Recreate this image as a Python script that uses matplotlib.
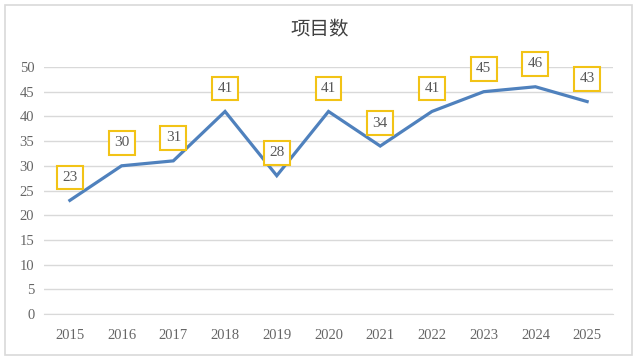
import matplotlib
matplotlib.use("Agg")
import matplotlib.pyplot as plt
from matplotlib.patches import Rectangle

years = ["2015", "2016", "2017", "2018", "2019", "2020", "2021", "2022", "2023", "2024", "2025"]
counts = [23, 30, 31, 41, 28, 41, 34, 41, 45, 46, 43]
yticks = [0, 5, 10, 15, 20, 25, 30, 35, 40, 45, 50]

plt.rcParams['font.family'] = ['Liberation Serif', 'Noto Sans CJK SC', 'DejaVu Sans']

fig = plt.figure(figsize=(6.4, 3.63), dpi=100)
# outer chart border
fig.patches.append(Rectangle((5 / 640, 8 / 363), 627 / 640, 350 / 363, transform=fig.transFigure,
                             fill=False, edgecolor='#d9d9d9', linewidth=1.2))

ax = fig.add_axes([44 / 640, 49 / 363, 569 / 640, 247 / 363])
x = list(range(len(years)))
ax.plot(x, counts, color='#4f81bd', linewidth=2.3, solid_joinstyle='miter')

for xi, v in zip(x, counts):
    ax.annotate(str(v), (xi, v), xytext=(0, 16.5), textcoords='offset points',
                ha='center', va='center', fontsize=11, color='#595959',
                bbox=dict(boxstyle='square,pad=0.35', facecolor='white', edgecolor='#f2c316', linewidth=1.5))

ax.set_xlim(-0.5, len(years) - 0.5)
ax.set_ylim(0, 50)
ax.set_yticks(yticks)
ax.set_xticks(x)
ax.set_xticklabels(years)
ax.grid(axis='y', color='#d9d9d9', linewidth=1)
ax.set_axisbelow(True)
for s in ['top', 'right', 'left']:
    ax.spines[s].set_visible(False)
ax.spines['bottom'].set_color('#d9d9d9')
ax.tick_params(length=0, labelsize=10.5, colors='#666666')
ax.tick_params(axis='x', pad=11)
ax.tick_params(axis='y', pad=7)

fig.text(0.5, 1 - 30 / 363, '项目数', ha='center', va='center', fontsize=14,
         color='#404040', family=['Noto Sans CJK SC', 'DejaVu Sans'])

fig.savefig('out.png', dpi=100, facecolor='white')
